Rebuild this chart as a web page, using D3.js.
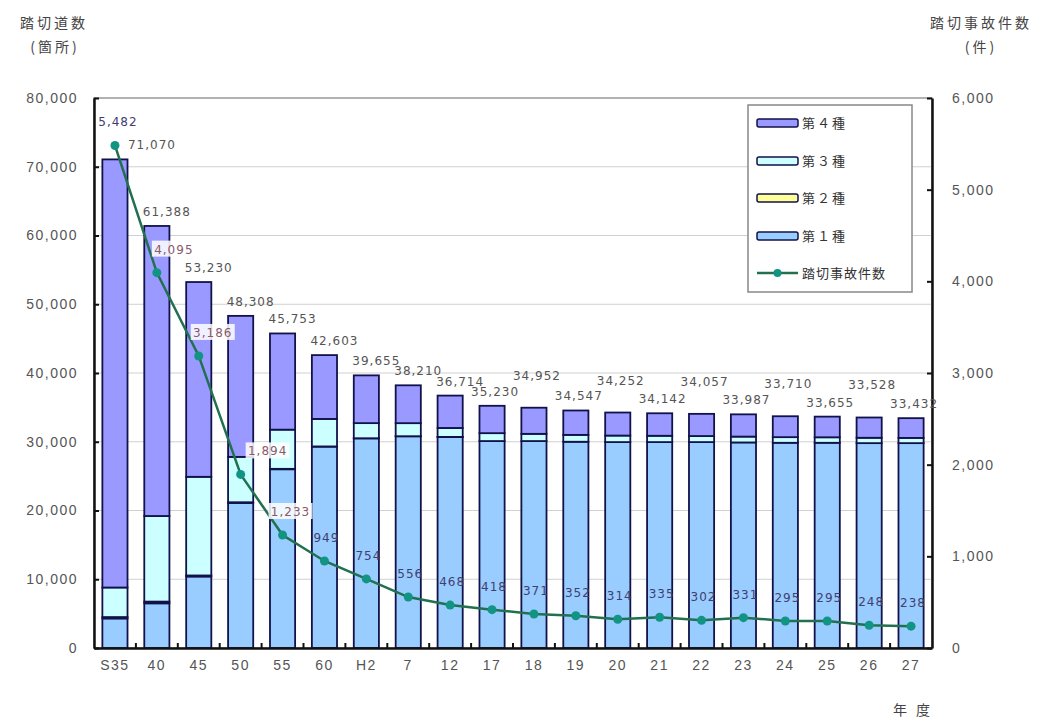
<!DOCTYPE html>
<html>
<head>
<meta charset="utf-8">
<script src="https://cdn.jsdelivr.net/npm/d3@7"></script>
<style>
  body { margin: 0; background: #fff; }
  svg { display: block; font-family: "DejaVu Sans", "Noto Sans CJK JP", sans-serif; }
  .jp { font-family: "Noto Sans CJK JP", sans-serif; }
</style>
</head>
<body>
<div id="chart"></div>
<script>
// 年度
var years = ['S35', '40', '45', '50', '55', '60', 'H2', '7', '12', '17', '18', '19', '20', '21', '22', '23', '24', '25', '26', '27'];
// 踏切道数 (箇所) by class
var class1 = [4300, 6500, 10400, 21100, 26000, 29300, 30500, 30800, 30700, 30100, 30100, 30000, 29950, 29950, 29950, 29900, 29850, 29850, 29800, 29800];
var class2 = [200, 250, 150, 100, 60, 20, 10, 5, 5, 0, 0, 0, 0, 0, 0, 0, 0, 0, 0, 0];
var class3 = [4300, 12450, 14350, 6600, 5700, 4000, 2200, 1900, 1300, 1150, 1050, 1000, 950, 920, 880, 850, 820, 800, 780, 760];
var class4 = [62270, 42188, 28330, 20508, 13993, 9283, 6945, 5505, 4709, 3980, 3802, 3547, 3352, 3272, 3227, 3237, 3040, 3005, 2948, 2872];
var totals = [71070, 61388, 53230, 48308, 45753, 42603, 39655, 38210, 36714, 35230, 34952, 34547, 34252, 34142, 34057, 33987, 33710, 33655, 33528, 33432];
// 踏切事故件数 (件)
var accidents = [5482, 4095, 3186, 1894, 1233, 949, 754, 556, 468, 418, 371, 352, 314, 335, 302, 331, 295, 295, 248, 238];

var leftTicks = [0, 10000, 20000, 30000, 40000, 50000, 60000, 70000, 80000];
var rightTicks = [0, 1000, 2000, 3000, 4000, 5000, 6000];

var keys = ['c1', 'c2', 'c3', 'c4'];
var legendNames = ['第４種', '第３種', '第２種', '第１種'];
var colors = { c1: '#99ccff', c2: '#ffff99', c3: '#ccffff', c4: '#9999ff' };

(function () {
  var width = 1038, height = 720;
  var plotL = 94, plotR = 932, plotT = 98, plotB = 648;

  var rows = years.map(function (y, i) {
    return { year: y, c1: class1[i], c2: class2[i], c3: class3[i], c4: class4[i], total: totals[i], acc: accidents[i] };
  });

  var svg = d3.select('#chart').append('svg')
    .attr('width', width)
    .attr('height', height);

  var x = d3.scaleBand().domain(years).range([plotL, plotR]).paddingInner(0.4).paddingOuter(0.2);
  var yL = d3.scaleLinear().domain([0, 80000]).range([plotB, plotT]);
  var yR = d3.scaleLinear().domain([0, 6000]).range([plotB, plotT]);

  // plot frame + gridlines
  svg.append('rect')
    .attr('x', plotL).attr('y', plotT)
    .attr('width', plotR - plotL).attr('height', plotB - plotT)
    .attr('fill', 'none').attr('stroke', '#999').attr('stroke-width', 1.5);

  svg.append('g').selectAll('line')
    .data(leftTicks.slice(1, -1))
    .enter().append('line')
    .attr('x1', plotL).attr('x2', plotR)
    .attr('y1', function (d) { return yL(d); })
    .attr('y2', function (d) { return yL(d); })
    .attr('stroke', '#d0d0d0').attr('stroke-width', 1);

  // stacked bars
  var series = d3.stack().keys(keys)(rows);
  svg.append('g').selectAll('g')
    .data(series)
    .enter().append('g')
    .attr('fill', function (s) { return colors[s.key]; })
    .selectAll('rect')
    .data(function (s) { return s; })
    .enter().append('rect')
    .attr('x', function (d) { return x(d.data.year); })
    .attr('width', x.bandwidth())
    .attr('y', function (d) { return yL(d[1]); })
    .attr('height', function (d) { return yL(d[0]) - yL(d[1]); })
    .attr('stroke', '#12124a')
    .attr('stroke-width', 1.8);

  // accident line
  var line = d3.line()
    .x(function (d) { return x(d.year) + x.bandwidth() / 2; })
    .y(function (d) { return yR(d.acc); });

  svg.append('path')
    .datum(rows)
    .attr('d', line)
    .attr('fill', 'none')
    .attr('stroke', '#22704f')
    .attr('stroke-width', 2.5);

  svg.append('g').selectAll('circle')
    .data(rows)
    .enter().append('circle')
    .attr('cx', function (d) { return x(d.year) + x.bandwidth() / 2; })
    .attr('cy', function (d) { return yR(d.acc); })
    .attr('r', 4.5)
    .attr('fill', '#129484');

  // axes
  var fmt = d3.format(',');

  var axL = svg.append('g')
    .attr('transform', 'translate(' + plotL + ',0)')
    .call(d3.axisLeft(yL).tickValues(leftTicks).tickFormat(fmt).tickSizeInner(-5).tickSizeOuter(0).tickPadding(16));
  var axR = svg.append('g')
    .attr('transform', 'translate(' + plotR + ',0)')
    .call(d3.axisRight(yR).tickValues(rightTicks).tickFormat(fmt).tickSizeInner(-5).tickSizeOuter(0).tickPadding(20));
  var axB = svg.append('g')
    .attr('transform', 'translate(0,' + plotB + ')')
    .call(d3.axisBottom(x).tickSize(0).tickPadding(12));

  [axL, axR, axB].forEach(function (ax) {
    ax.select('.domain').attr('stroke', '#111').attr('stroke-width', 2.5);
    ax.selectAll('.tick line').attr('stroke', '#111').attr('stroke-width', 2);
    ax.selectAll('text')
      .attr('fill', '#555')
      .style('font-size', '14px')
      .style('letter-spacing', '1.5px');
  });

  // small ticks between categories on the bottom axis
  svg.append('g').selectAll('line')
    .data(years.slice(1))
    .enter().append('line')
    .attr('x1', function (d) { return x(d) - x.step() * x.paddingInner() / 2; })
    .attr('x2', function (d) { return x(d) - x.step() * x.paddingInner() / 2; })
    .attr('y1', plotB).attr('y2', plotB - 5)
    .attr('stroke', '#111').attr('stroke-width', 2);

  // total labels above bars
  svg.append('g').selectAll('text')
    .data(rows)
    .enter().append('text')
    .attr('x', function (d, i) {
      var dx = i === 0 ? 37 : (i < 9 ? 10 : 3);
      return x(d.year) + x.bandwidth() / 2 + dx;
    })
    .attr('y', function (d, i) {
      var raise = (i >= 10 && (i - 10) % 2 === 0) ? 28 : 10;
      return yL(d.total) - raise;
    })
    .attr('text-anchor', 'middle')
    .attr('fill', '#555')
    .style('font-size', '12px')
    .style('letter-spacing', '1px')
    .text(function (d) { return fmt(d.total); });

  // accident labels
  var accDx = [3, 17, 14, 27, 8];
  var accG = svg.append('g');
  rows.forEach(function (d, i) {
    var cx = x(d.year) + x.bandwidth() / 2 + (i < accDx.length ? accDx[i] : 2);
    var cy = yR(d.acc) - 22;
    if (i >= 1 && i <= 4) {
      accG.append('rect')
        .attr('x', cx - 22).attr('y', cy - 10)
        .attr('width', 44).attr('height', 16)
        .attr('fill', '#fff').attr('opacity', 0.85);
    }
    accG.append('text')
      .attr('x', cx).attr('y', cy + 3)
      .attr('text-anchor', 'middle')
      .attr('fill', i >= 1 && i <= 4 ? '#8a5a6a' : '#404070')
      .style('font-size', '12px')
      .style('letter-spacing', '1px')
      .text(fmt(d.acc));
  });

  // axis titles
  function title(tx, ty, str) {
    svg.append('text')
      .attr('class', 'jp')
      .attr('x', tx).attr('y', ty)
      .attr('text-anchor', 'middle')
      .attr('fill', '#444')
      .style('font-size', '14px')
      .style('letter-spacing', '3px')
      .text(str);
  }
  title(54, 28, '踏切道数');
  title(55, 52, '(箇所)');
  title(981, 28, '踏切事故件数');
  title(981, 52, '(件)');
  title(913, 715, '年 度');

  // legend
  var lg = svg.append('g');
  lg.append('rect')
    .attr('x', 748).attr('y', 105)
    .attr('width', 164).attr('height', 187)
    .attr('fill', '#fff').attr('stroke', '#888').attr('stroke-width', 1.5);

  var legendKeys = ['c4', 'c3', 'c2', 'c1'];
  var legendY = [123, 161, 198, 236, 273];
  legendKeys.forEach(function (k, i) {
    lg.append('rect')
      .attr('x', 757).attr('y', legendY[i] - 4)
      .attr('width', 41).attr('height', 8)
      .attr('rx', 2)
      .attr('fill', colors[k])
      .attr('stroke', '#12124a').attr('stroke-width', 1.5);
    lg.append('text')
      .attr('class', 'jp')
      .attr('x', 802).attr('y', legendY[i] + 5)
      .attr('fill', '#333')
      .style('font-size', '13px')
      .style('letter-spacing', '2px')
      .text(legendNames[i]);
  });
  lg.append('line')
    .attr('x1', 757).attr('x2', 798)
    .attr('y1', legendY[4]).attr('y2', legendY[4])
    .attr('stroke', '#22704f').attr('stroke-width', 2.5);
  lg.append('circle')
    .attr('cx', 777.5).attr('cy', legendY[4]).attr('r', 4)
    .attr('fill', '#129484');
  lg.append('text')
    .attr('class', 'jp')
    .attr('x', 802).attr('y', legendY[4] + 5)
    .attr('fill', '#333')
    .style('font-size', '13px')
    .style('letter-spacing', '1px')
    .text('踏切事故件数');
})();
</script>
</body>
</html>
